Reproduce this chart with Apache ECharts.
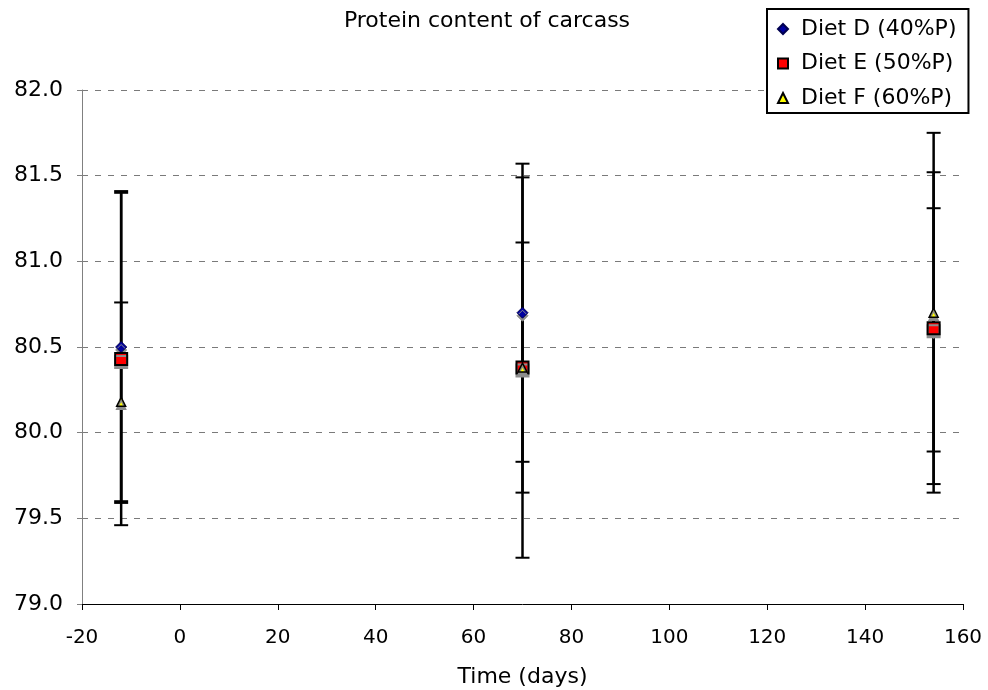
<!DOCTYPE html>
<html>
<head>
<meta charset="utf-8">
<script src="https://cdn.jsdelivr.net/npm/echarts@6/dist/echarts.min.js"></script>
<style>
  html, body { margin: 0; padding: 0; background: #fff; }
  #chart { width: 988px; height: 690px; }
</style>
</head>
<body>
<div id="chart"></div>
<script>
// Sampling times (days) and carcass protein means with their error margins
const days = [-12, 70, 154];
const dietD = [80.50, 80.70, 80.60];
const dietDErr = [0.91, 0.87, 0.71];
const dietE = [80.43, 80.38, 80.61];
const dietEErr = [0.97, 1.11, 0.91];
const dietF = [80.18, 80.38, 80.70];
const dietFErr = [0.58, 0.73, 1.05];
const seriesNames = ['Diet D (40%P)', 'Diet E (50%P)', 'Diet F (60%P)'];
const yTicks = [79.0, 79.5, 80.0, 80.5, 81.0, 81.5, 82.0];
const xTicks = [-20, 0, 20, 40, 60, 80, 100, 120, 140, 160];

const FONT = 'DejaVu Sans, Verdana, sans-serif';

function points(vals) {
  return days.map((d, i) => [d, vals[i]]);
}
function errRows(vals, errs) {
  return days.map((d, i) => [d, vals[i] - errs[i], vals[i] + errs[i]]);
}

// Error bar: vertical stem with caps at both ends
function renderErrorBar(params, api) {
  const x = api.value(0);
  const lo = api.coord([x, api.value(1)]);
  const hi = api.coord([x, api.value(2)]);
  const half = 7;
  const style = { stroke: '#000', lineWidth: 2 };
  return {
    type: 'group',
    children: [
      { type: 'line', shape: { x1: lo[0], y1: lo[1], x2: hi[0], y2: hi[1] }, style: { stroke: '#000', lineWidth: 2.5 } },
      { type: 'line', shape: { x1: hi[0] - half, y1: hi[1], x2: hi[0] + half, y2: hi[1] }, style: style },
      { type: 'line', shape: { x1: lo[0] - half, y1: lo[1], x2: lo[0] + half, y2: lo[1] }, style: style }
    ]
  };
}

function errSeries(vals, errs) {
  return {
    type: 'custom',
    renderItem: renderErrorBar,
    data: errRows(vals, errs),
    encode: { x: 0, y: [1, 2] },
    z: 1,
    silent: true
  };
}

const shadow = { shadowColor: '#8c8c8c', shadowOffsetX: 0, shadowOffsetY: 3, shadowBlur: 0 };

const chart = echarts.init(document.getElementById('chart'), null, { renderer: 'canvas' });
chart.setOption({
  backgroundColor: '#fff',
  animation: false,
  title: {
    text: 'Protein content of carcass',
    left: 487,
    top: 10,
    padding: 0,
    textAlign: 'center',
    textStyle: { fontFamily: FONT, fontSize: 22, fontWeight: 'normal', color: '#000' }
  },
  legend: {
    orient: 'vertical',
    left: 767,
    top: 9,
    padding: [8, 12, 3, 10],
    itemWidth: 10,
    itemHeight: 10,
    itemGap: 10.5,
    borderColor: '#000',
    borderWidth: 2,
    backgroundColor: '#fff',
    textStyle: { fontFamily: FONT, fontSize: 22, color: '#000', lineHeight: 24, padding: [0, 0, 0, 8] },
    itemStyle: { shadowColor: 'rgba(0,0,0,0)', shadowOffsetY: 0 },
    data: [
      { name: seriesNames[0], icon: 'diamond' },
      { name: seriesNames[1], icon: 'rect' },
      { name: seriesNames[2], icon: 'triangle' }
    ]
  },
  grid: { left: 82, right: 25, top: 90, bottom: 86, containLabel: false, outerBoundsMode: 'none' },
  xAxis: {
    type: 'value',
    min: xTicks[0],
    max: xTicks[xTicks.length - 1],
    interval: 20,
    name: 'Time (days)',
    nameLocation: 'middle',
    nameGap: 62,
    nameTextStyle: { fontFamily: FONT, fontSize: 22, color: '#000' },
    axisLine: { onZero: false, lineStyle: { color: '#000', width: 1 } },
    axisTick: { show: true, length: 6, inside: false, lineStyle: { color: '#000' } },
    axisLabel: { fontFamily: FONT, fontSize: 20, color: '#000', margin: 24 },
    splitLine: { show: false }
  },
  yAxis: {
    type: 'value',
    min: yTicks[0],
    max: yTicks[yTicks.length - 1],
    interval: 0.5,
    axisLine: { show: true, onZero: false, lineStyle: { color: '#808080', width: 1 } },
    axisTick: { show: true, length: 5, inside: false, lineStyle: { color: '#808080' } },
    axisLabel: {
      fontFamily: FONT, fontSize: 22, color: '#000', margin: 19,
      formatter: v => v.toFixed(1)
    },
    splitLine: { show: true, lineStyle: { color: '#7a7a7a', width: 1, type: [6, 7] } }
  },
  series: [
    errSeries(dietD, dietDErr),
    errSeries(dietE, dietEErr),
    errSeries(dietF, dietFErr),
    {
      name: seriesNames[0], type: 'scatter', data: points(dietD), z: 3,
      symbol: 'diamond', symbolSize: 11,
      itemStyle: Object.assign({ color: '#0000a0', borderColor: '#000050', borderWidth: 1, opacity: 1 }, shadow)
    },
    {
      name: seriesNames[1], type: 'scatter', data: points(dietE), z: 4,
      symbol: 'rect', symbolSize: 12,
      itemStyle: Object.assign({ color: '#ff0000', borderColor: '#000', borderWidth: 2, opacity: 1 }, shadow)
    },
    {
      name: seriesNames[2], type: 'scatter', data: points(dietF), z: 5,
      symbol: 'triangle', symbolSize: 9,
      itemStyle: Object.assign({ color: '#ffff00', borderColor: '#000', borderWidth: 1.5, opacity: 1 }, shadow)
    }
  ]
});
</script>
</body>
</html>
